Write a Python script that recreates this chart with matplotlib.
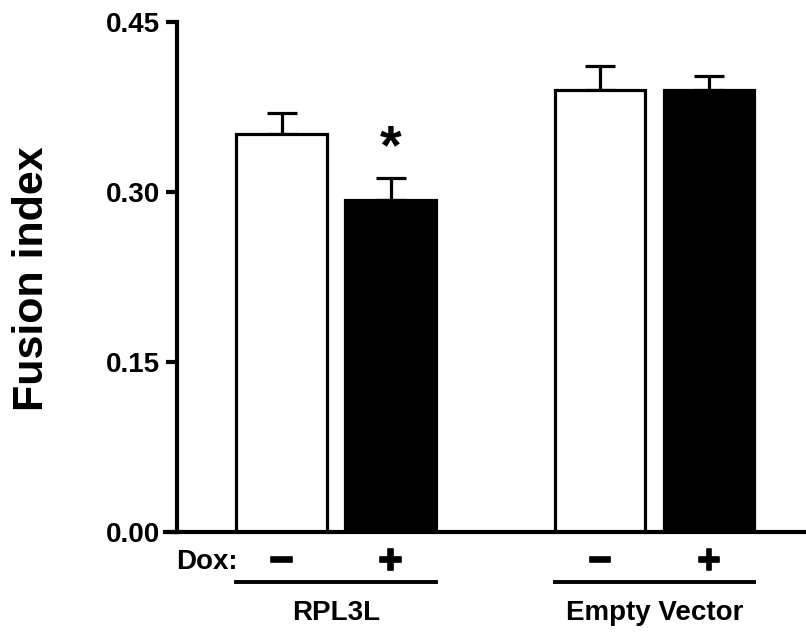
import matplotlib
matplotlib.use("Agg")
import matplotlib.pyplot as plt
import matplotlib.transforms as mtransforms
import matplotlib.patheffects as pe

plt.rcParams['font.family'] = ['Liberation Sans', 'DejaVu Sans']

# data
groups = ['RPL3L', 'Empty Vector']
dox = ['−', '+', '−', '+']
means = [0.351, 0.293, 0.390, 0.390]
errs = [0.019, 0.019, 0.021, 0.012]
colors = ['white', 'black', 'white', 'black']
xpos = [0, 1, 2.92, 3.92]
width = 0.83

fig = plt.figure(figsize=(8.06, 6.35), dpi=100)
ax = fig.add_axes([177 / 806, 1 - 532 / 635, 1 - 177 / 806, 510 / 635])

ax.bar(xpos, means, width=width, color=colors, edgecolor='black', linewidth=2.3, zorder=2)
ax.errorbar(xpos, means, yerr=[[0] * 4, errs], fmt='none', ecolor='black',
            elinewidth=2.3, capsize=11, capthick=2.3, zorder=1)

ax.set_xlim(-0.959, 4.81)
ax.set_ylim(0, 0.45)
ax.set_yticks([0, 0.15, 0.30, 0.45])
ax.set_yticklabels(['0.00', '0.15', '0.30', '0.45'], fontsize=20, fontweight='bold')
ax.set_xticks([])
ax.tick_params(axis='y', direction='out', length=8, width=3, pad=4)

for s in ['top', 'right']:
    ax.spines[s].set_visible(False)
ax.spines['left'].set_linewidth(3)
ax.spines['bottom'].set_linewidth(3)
ax.spines['bottom'].set_bounds(-1.07, 4.81)

# significance star
ax.text(xpos[1], means[1] + errs[1] + 0.026, '*', ha='center', va='center',
        fontsize=40, fontweight='bold')

trans = mtransforms.blended_transform_factory(ax.transData, ax.transAxes)
ax.text(-0.40, -0.059, 'Dox:', transform=trans, ha='right', va='center',
        fontsize=20, fontweight='bold')
for x, d in zip(xpos, dox):
    ax.text(x, -0.059, d, transform=trans, ha='center', va='center',
            fontsize=30, fontweight='bold',
            path_effects=[pe.withStroke(linewidth=1.2, foreground='black')])

for i, g in enumerate(groups):
    x0 = xpos[2 * i] - width / 2
    x1 = xpos[2 * i + 1] + width / 2
    ax.plot([x0, x1], [-0.098, -0.098], color='black', linewidth=2.8,
            transform=trans, clip_on=False)
    ax.text((x0 + x1) / 2, -0.159, g, transform=trans, ha='center', va='center',
            fontsize=20, fontweight='bold')

fig.text(32 / 806, 1 - 279 / 635, 'Fusion index', rotation=90, ha='center',
         va='center', fontsize=31, fontweight='bold')

fig.savefig('out.png', dpi=100)
